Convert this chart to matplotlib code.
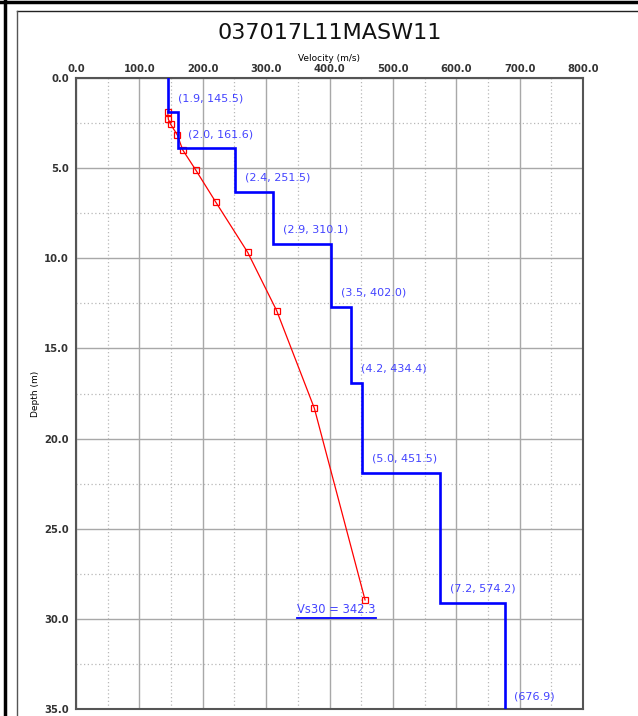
import matplotlib
matplotlib.use("Agg")
import matplotlib.pyplot as plt
from matplotlib.ticker import MultipleLocator, FormatStrFormatter
from matplotlib.lines import Line2D

plt.rcParams['font.family'] = ['DejaVu Sans']

title = "037017L11MASW11"
# layer thickness (m) and shear-wave velocity (m/s)
thickness = [1.9, 2.0, 2.4, 2.9, 3.5, 4.2, 5.0, 7.2]
velocity = [145.5, 161.6, 251.5, 310.1, 402.0, 434.4, 451.5, 574.2]
halfspace_velocity = 676.9
# red curve points (velocity, depth)
curve_v = [144.7, 145.7, 149.4, 159.9, 168.4, 188.9, 220.5, 270.9, 316.7, 376.1, 456.1]
curve_d = [1.87, 2.29, 2.57, 3.16, 3.99, 5.10, 6.88, 9.67, 12.91, 18.32, 28.95]
vs30 = 342.3
max_depth = 35.0

W, H = 638, 716
fig = plt.figure(figsize=(W / 100, H / 100), dpi=100)
ax = fig.add_axes([76 / W, (H - 709) / H, (583 - 76) / W, (709 - 78) / H])

# step profile
xs, ys = [], []
top = 0.0
for t, v in zip(thickness, velocity):
    xs += [v, v]
    ys += [top, top + t]
    top += t
xs += [halfspace_velocity, halfspace_velocity]
ys += [top, max_depth]
ax.plot(xs, ys, color='#0000ff', lw=1.9, solid_joinstyle='miter', zorder=4)

# labels
lab_kw = dict(color='#4444ff', fontsize=8, ha='left', va='center', zorder=5)
top = 0.0
for t, v in zip(thickness, velocity):
    bottom = top + t
    ax.annotate(f"({t:.1f}, {v:.1f})", xy=(v, bottom), xytext=(10, 14),
                textcoords='offset pixels', **lab_kw)
    top = bottom
ax.annotate(f"({halfspace_velocity:.1f})", xy=(halfspace_velocity, 34.3), xytext=(9, 0),
            textcoords='offset pixels', **lab_kw)

# red curve
ax.plot(curve_v, curve_d, color='#ff0000', lw=0.9, marker='s', markersize=5,
        markerfacecolor='none', markeredgecolor='#ff0000', markeredgewidth=0.9, zorder=3)

# Vs30 text with underline
ax.plot([348.7, 473.4], [29.96, 29.96], color='#0000ff', lw=1.3, zorder=5)
ax.text(348.7, 29.85, f"Vs30 = {vs30:.1f}", color='#4444ff', fontsize=8.3,
        ha='left', va='bottom', zorder=5)

ax.set_xlim(0, 800)
ax.set_ylim(max_depth, 0)
ax.xaxis.set_major_locator(MultipleLocator(100))
ax.xaxis.set_minor_locator(MultipleLocator(50))
ax.yaxis.set_major_locator(MultipleLocator(5))
ax.yaxis.set_minor_locator(MultipleLocator(2.5))
ax.xaxis.set_major_formatter(FormatStrFormatter('%.1f'))
ax.yaxis.set_major_formatter(FormatStrFormatter('%.1f'))
ax.xaxis.tick_top()
ax.xaxis.set_label_position('top')
ax.tick_params(which='both', length=0)
ax.tick_params(axis='x', which='major', pad=3, labelsize=7.2, labelcolor='#333333')
ax.tick_params(axis='y', which='major', pad=5, labelsize=7.2, labelcolor='#333333')
for lab in ax.get_xticklabels() + ax.get_yticklabels():
    lab.set_fontweight('bold')
ax.grid(which='major', color='#a8a8a8', lw=1.0, ls='-')
ax.grid(which='minor', color='#b8b8b8', lw=0.9, ls=(0, (1, 2)))
ax.set_axisbelow(True)
ax.set_xlabel("Velocity (m/s)", fontsize=6.5, labelpad=2)
ax.set_ylabel("Depth (m)", fontsize=6.5, labelpad=3)
for s in ax.spines.values():
    s.set_color('#555555')
    s.set_linewidth(1.5)

fig.text(330 / W, 1 - 33 / H, title, fontsize=16, ha='center', va='center', color='#111111')

# outer frames
fig.add_artist(Line2D([0, 1], [1 - 1.5 / H, 1 - 1.5 / H], color='black', lw=2.5, transform=fig.transFigure))
fig.add_artist(Line2D([4.5 / W, 4.5 / W], [0, 1], color='black', lw=2.5, transform=fig.transFigure))
fig.add_artist(Line2D([17 / W, 1], [1 - 11 / H, 1 - 11 / H], color='#222222', lw=1.0, transform=fig.transFigure))
fig.add_artist(Line2D([17 / W, 17 / W], [0, 1 - 11 / H], color='#555555', lw=1.0, transform=fig.transFigure))

fig.savefig("out.png", dpi=100)
